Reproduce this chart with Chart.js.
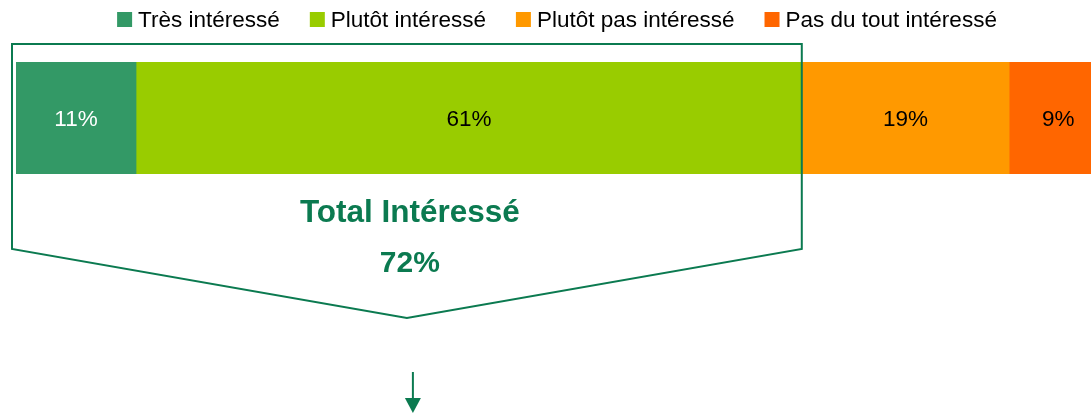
<!DOCTYPE html>
<html lang="fr">
<head>
<meta charset="UTF-8">
<title>Intérêt</title>
<script src="https://cdn.jsdelivr.net/npm/chart.js"></script>
<style>
    html, body { margin: 0; padding: 0; background: #fff; }
    #wrap { width: 1091px; height: 414px; }
</style>
</head>
<body>
<div id="wrap"><canvas id="chart" width="1091" height="414"></canvas></div>
<script>
    const categories = [''];
    const seriesLabels = ['Très intéressé', 'Plutôt intéressé', 'Plutôt pas intéressé', 'Pas du tout intéressé'];
    const seriesValues = [11, 61, 19, 9];
    const seriesColors = ['#339966', '#99cc00', '#ff9900', '#ff6600'];
    const labelColors = ['#ffffff', '#000000', '#000000', '#000000'];
    const totalLabel = 'Total Intéressé';
    const totalSeries = [0, 1]; // séries cumulées dans le total
    const xMax = 98.5;           // la barre déborde à droite

    const FONT = "'Liberation Sans', Arial, sans-serif";
    const GREEN = '#0b7a50';

    const totalValue = totalSeries.reduce((s, i) => s + seriesValues[i], 0);

    // légende dessinée à la main (espacements du modèle)
    const legendPlugin = {
        id: 'legendeMaison',
        afterDraw(chart) {
            const ctx = chart.ctx;
            ctx.save();
            ctx.font = '22.5px ' + FONT;
            ctx.textBaseline = 'alphabetic';
            const box = 15, gapText = 6, gapItem = 30;
            const ds = chart.data.datasets;
            const widths = ds.map(d => ctx.measureText(d.label).width);
            const total = widths.reduce((a, w) => a + box + gapText + w, 0) + gapItem * (ds.length - 1);
            let x = 557 - total / 2;
            ds.forEach((d, i) => {
                ctx.fillStyle = d.backgroundColor;
                ctx.fillRect(x, 12, box, box);
                ctx.fillStyle = '#000';
                ctx.fillText(d.label, x + box + gapText, 27);
                x += box + gapText + widths[i] + gapItem;
            });
            ctx.restore();
        }
    };

    const valuesPlugin = {
        id: 'valeurs',
        afterDatasetsDraw(chart) {
            const ctx = chart.ctx;
            ctx.save();
            ctx.font = '22.5px ' + FONT;
            ctx.textAlign = 'center';
            ctx.textBaseline = 'alphabetic';
            chart.data.datasets.forEach((d, i) => {
                chart.getDatasetMeta(i).data.forEach((bar, j) => {
                    const p = bar.getCenterPoint();
                    ctx.fillStyle = labelColors[i];
                    ctx.fillText(d.data[j] + '%', p.x, p.y + 8);
                });
            });
            ctx.restore();
        }
    };

    const calloutPlugin = {
        id: 'totalInteresse',
        afterDraw(chart) {
            const ctx = chart.ctx;
            const xs = chart.scales.x;
            const area = chart.chartArea;
            const left = xs.getPixelForValue(0) - 4;
            const right = xs.getPixelForValue(totalValue);
            const top = area.top - 18;
            const sideBottom = area.bottom + 75;
            const tipY = area.bottom + 144;
            const mid = (left + right) / 2;

            ctx.save();
            ctx.strokeStyle = GREEN;
            ctx.lineWidth = 2;
            ctx.beginPath();
            ctx.moveTo(left, top);
            ctx.lineTo(right, top);
            ctx.lineTo(right, sideBottom);
            ctx.lineTo(mid, tipY);
            ctx.lineTo(left, sideBottom);
            ctx.closePath();
            ctx.stroke();

            ctx.fillStyle = GREEN;
            ctx.textAlign = 'center';
            ctx.textBaseline = 'alphabetic';
            ctx.font = 'bold 31.5px ' + FONT;
            ctx.fillText(totalLabel, mid + 3, area.bottom + 48);
            ctx.font = 'bold 30px ' + FONT;
            ctx.fillText(totalValue + '%', mid + 3, area.bottom + 98);

            // flèche
            const ax = mid + 6;
            ctx.beginPath();
            ctx.moveTo(ax, area.bottom + 198);
            ctx.lineTo(ax, area.bottom + 226);
            ctx.stroke();
            ctx.beginPath();
            ctx.moveTo(ax - 8, area.bottom + 224);
            ctx.lineTo(ax + 8, area.bottom + 224);
            ctx.lineTo(ax, area.bottom + 239);
            ctx.closePath();
            ctx.fill();
            ctx.restore();
        }
    };

    new Chart(document.getElementById('chart'), {
        type: 'bar',
        data: {
            labels: categories,
            datasets: seriesLabels.map((label, i) => ({
                label: label,
                data: [seriesValues[i]],
                backgroundColor: seriesColors[i],
                borderWidth: 0,
                barPercentage: 1,
                categoryPercentage: 1
            }))
        },
        options: {
            indexAxis: 'y',
            responsive: false,
            animation: false,
            layout: { padding: { top: 62, bottom: 240, left: 16, right: 0 } },
            scales: {
                x: { stacked: true, min: 0, max: xMax, display: false },
                y: { stacked: true, display: false }
            },
            plugins: {
                legend: { display: false },
                tooltip: { enabled: false }
            }
        },
        plugins: [legendPlugin, valuesPlugin, calloutPlugin]
    });
</script>
</body>
</html>
